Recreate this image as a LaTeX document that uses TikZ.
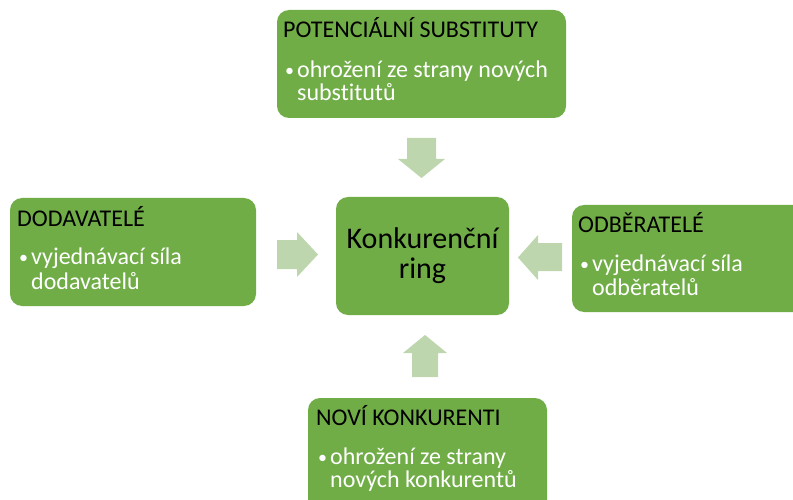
\documentclass[tikz,border=0pt]{standalone}
\usepackage{fontspec}
\setmainfont{Carlito}[Ligatures=NoCommon]
\definecolor{boxgreen}{HTML}{70AD47}
\definecolor{arrowgreen}{HTML}{BDD6AE}
\begin{document}
\begin{tikzpicture}[x=1pt,y=-1pt,
  box/.style={fill=boxgreen,rounded corners=12pt,draw=none},
  blockarrow/.style={fill=arrowgreen,draw=none},
  title/.style={anchor=base west,inner sep=0pt,font=\fontsize{24}{28}\selectfont,text=black},
  item/.style={anchor=base west,inner sep=0pt,font=\fontsize{24}{28}\selectfont,text=white},
  bul/.style={anchor=base west,inner sep=0pt,font=\fontsize{18}{20}\selectfont,text=white},
  center/.style={inner sep=0pt,font=\fontsize{30}{30}\selectfont,text=black,align=center}]
\useasboundingbox (0,0) rectangle (793,500);
\clip (0,0) rectangle (793,500);
% boxes
\fill[box] (277,10) rectangle (566,118);
\fill[box] (10,198) rectangle (256,306);
\fill[box] (336,197) rectangle (509,315);
\fill[box] (572,205) rectangle (810,312);
\fill[box] (308,398) rectangle (547,515);
% block arrows
\fill[blockarrow] (407,138) -- (436,138) -- (436,159) -- (445,159) -- (421.5,178) -- (398,159) -- (407,159) -- cycle;
\fill[blockarrow] (277,240) -- (297,240) -- (297,232) -- (318,254.5) -- (297,277) -- (297,269) -- (277,269) -- cycle;
\fill[blockarrow] (562,243) -- (538,243) -- (538,235) -- (518,257.5) -- (538,280) -- (538,271) -- (562,271) -- cycle;
\fill[blockarrow] (412,377) -- (438,377) -- (438,353) -- (447,353) -- (425,335) -- (403,353) -- (412,353) -- cycle;
% texts
\node[title] (t1) at (283,38) {POTENCIÁLNÍ SUBSTITUTY};
\node[bul] (b1) at (285,77) {•};
\node[item] (i1) at (297,78) {ohrožení ze strany nových};
\node[item] (j1) at (297,101) {substitutů};
\node[title] (t2) at (17,226) {DODAVATELÉ};
\node[bul] (b2) at (19,263) {•};
\node[item] (i2) at (31,264) {vyjednávací síla};
\node[item] (j2) at (31,289) {dodavatelů};
\node[title] (t3) at (578,233) {ODBĚRATELÉ};
\node[bul] (b3) at (580,270) {•};
\node[item] (i3) at (592,271) {vyjednávací síla};
\node[item] (j3) at (592,295) {odběratelů};
\node[title] (t4) at (316,425) {NOVÍ KONKURENTI};
\node[bul] (b4) at (318,463) {•};
\node[item] (i4) at (330,464) {ohrožení ze strany};
\node[item] (j4) at (330,487) {nových konkurentů};
\node[center] (c) at (422.5,256) {Konkurenční\\ring};
\end{tikzpicture}
\end{document}
